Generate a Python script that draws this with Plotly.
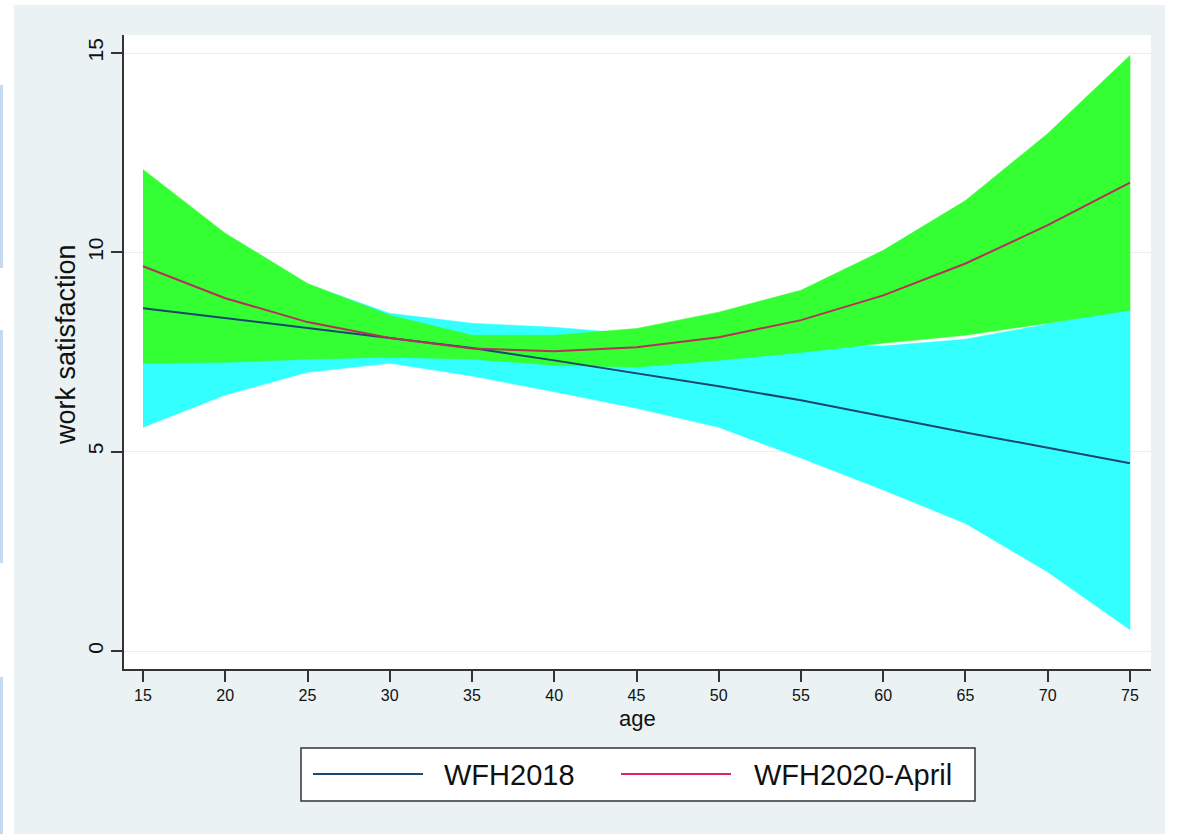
import plotly.graph_objects as go

# ---- data ----
age = [15, 20, 25, 30, 35, 40, 45, 50, 55, 60, 65, 70, 75]

wfh2018_mean = [8.60, 8.35, 8.10, 7.85, 7.60, 7.29, 6.97, 6.64, 6.29, 5.88, 5.48, 5.10, 4.71]
wfh2018_lo = [5.61, 6.42, 6.99, 7.22, 6.90, 6.50, 6.09, 5.61, 4.84, 4.04, 3.20, 1.98, 0.53]
wfh2018_hi = [11.60, 10.30, 9.20, 8.47, 8.22, 8.12, 7.95, 7.75, 7.68, 7.65, 7.82, 8.20, 8.60]

wfh2020_mean = [9.65, 8.85, 8.25, 7.85, 7.59, 7.52, 7.62, 7.87, 8.30, 8.92, 9.72, 10.68, 11.75]
wfh2020_lo = [7.22, 7.24, 7.32, 7.37, 7.32, 7.17, 7.12, 7.29, 7.49, 7.72, 7.92, 8.22, 8.55]
wfh2020_hi = [12.08, 10.48, 9.22, 8.42, 7.92, 7.92, 8.09, 8.50, 9.05, 10.05, 11.30, 12.98, 14.94]

x_ticks = [15, 20, 25, 30, 35, 40, 45, 50, 55, 60, 65, 70, 75]
y_ticks = [0, 5, 10, 15]
series_names = ["WFH2018", "WFH2020-April"]

# ---- style ----
W, H = 1179, 834
ML, MR, MT, MB = 124, 28, 35, 165
PW, PH = W - ML - MR, H - MT - MB
FONT = "Liberation Sans, Arial, sans-serif"
BG = "#eaf2f3"
NAVY = "#1a476f"
RED = "#b8305a"
CYAN = "#33ffff"
GREEN = "#33ff33"


def px_x(px):
    return (px - ML) / PW


def px_y(py):
    return (H - MB - py) / PH


fig = go.Figure()

# bands
fig.add_trace(go.Scatter(
    x=age + age[::-1], y=wfh2018_hi + wfh2018_lo[::-1],
    fill="toself", fillcolor=CYAN, line=dict(color=CYAN, width=0.5),
    mode="lines", showlegend=False, hoverinfo="skip"))
fig.add_trace(go.Scatter(
    x=age + age[::-1], y=wfh2020_hi + wfh2020_lo[::-1],
    fill="toself", fillcolor=GREEN, line=dict(color=GREEN, width=0.5),
    mode="lines", showlegend=False, hoverinfo="skip"))

# lines
fig.add_trace(go.Scatter(x=age, y=wfh2018_mean, mode="lines", name=series_names[0],
                         line=dict(color=NAVY, width=2), showlegend=False))
fig.add_trace(go.Scatter(x=age, y=wfh2020_mean, mode="lines", name=series_names[1],
                         line=dict(color=RED, width=2), showlegend=False))

shapes = []
# outer graph background (bluish gray region)
shapes.append(dict(type="rect", xref="paper", yref="paper", layer="below",
                   x0=px_x(14), x1=px_x(1165), y0=px_y(834), y1=px_y(5),
                   fillcolor=BG, line=dict(width=0)))
# left edge light-blue strips
for y0, y1 in [(85, 268), (330, 563), (677, 834)]:
    shapes.append(dict(type="line", xref="paper", yref="paper", layer="below",
                       x0=px_x(1.5), x1=px_x(1.5), y0=px_y(y0), y1=px_y(y1),
                       line=dict(color="#c5d9f1", width=3)))
# white plot region (behind data)
shapes.append(dict(type="rect", xref="paper", yref="paper", layer="below",
                   x0=0, x1=1, y0=0, y1=1, fillcolor="white", line=dict(width=0)))

# legend box
shapes.append(dict(type="rect", xref="paper", yref="paper",
                   x0=px_x(301), x1=px_x(975), y0=px_y(801), y1=px_y(748),
                   fillcolor="white", line=dict(color="#333333", width=1.5)))
leg_line_x = [(313, 423), (621, 731)]
leg_text_x = [442, 752]
leg_cols = [NAVY, "#e0206a"]
annotations = []
for (a, b), tx, col, nm in zip(leg_line_x, leg_text_x, leg_cols, series_names):
    shapes.append(dict(type="line", xref="paper", yref="paper",
                       x0=px_x(a), x1=px_x(b), y0=px_y(774), y1=px_y(774),
                       line=dict(color=col, width=2)))
    annotations.append(dict(text=nm, xref="paper", yref="paper", x=px_x(tx), y=px_y(775),
                            xanchor="left", yanchor="middle", showarrow=False,
                            font=dict(family=FONT, size=29, color="#111111")))

# axis titles
annotations.append(dict(text="age", xref="paper", yref="paper", x=px_x(637), y=px_y(718),
                        xanchor="center", yanchor="middle", showarrow=False,
                        font=dict(family=FONT, size=22, color="#111111")))
annotations.append(dict(text="work satisfaction", xref="paper", yref="paper",
                        x=px_x(66), y=px_y(345), textangle=-90,
                        xanchor="center", yanchor="middle", showarrow=False,
                        font=dict(family=FONT, size=27, color="#111111")))

fig.update_layout(
    width=W, height=H,
    margin=dict(l=ML, r=MR, t=MT, b=MB, autoexpand=False),
    paper_bgcolor="white", plot_bgcolor="rgba(0,0,0,0)",
    shapes=shapes, annotations=annotations,
    showlegend=False,
    font=dict(family=FONT, color="#111111"),
)
fig.update_xaxes(
    range=[13.845, 76.277], tickmode="array", tickvals=x_ticks,
    ticks="outside", ticklen=11, tickwidth=1.5, tickcolor="#333333",
    showline=True, linecolor="#333333", linewidth=1.5,
    showgrid=False, zeroline=False,
    tickfont=dict(family=FONT, size=16, color="#111111"),
)
fig.update_yaxes(
    range=[-0.4515, 15.4515], tickmode="array", tickvals=y_ticks,
    ticks="outside", ticklen=11, tickwidth=1.5, tickcolor="#333333",
    showline=True, linecolor="#333333", linewidth=1.5,
    showgrid=True, gridcolor="#e6eef0", gridwidth=1, zeroline=False,
    tickangle=-90,
    tickfont=dict(family=FONT, size=21, color="#111111"),
)

fig.write_html("out.html", config={"displayModeBar": False},
               post_script="document.body.style.margin='0';")
